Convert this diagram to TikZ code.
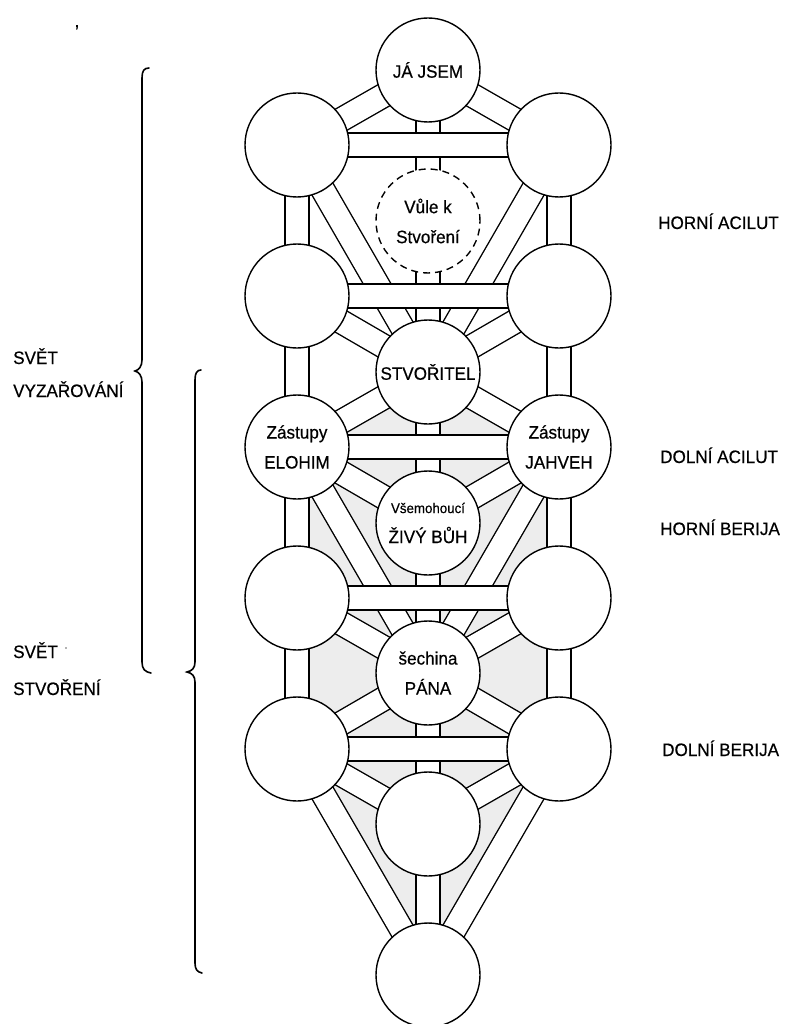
\documentclass[tikz,border=0pt]{standalone}
\usepackage{fontspec}
\setmainfont{Liberation Sans}[FakeStretch=0.95,FakeBold=0.5]
\pgfdeclarelayer{shadelayer}
\pgfdeclarelayer{barAk}
\pgfdeclarelayer{barAw}
\pgfdeclarelayer{barBk}
\pgfdeclarelayer{barBw}
\pgfsetlayers{shadelayer,barAk,barAw,barBk,barBw,main}
\tikzset{
  sef/.style={circle, draw, line width=1.4pt, fill=white, minimum size=104pt, inner sep=0pt, align=center, font=\fontsize{18}{30}\selectfont},
  daat/.style={sef, dash pattern=on 7pt off 5pt},
  barout/.style={line width=25.4pt, draw=black},
  barin/.style={line width=22.6pt, draw=white},
  lbl/.style={inner sep=0pt, anchor=base west, font=\fontsize{18}{22}\selectfont},
  bracestyle/.style={line width=1.6pt, line cap=round},
  shadefill/.style={fill=black!7},
}
\def\lowerbars{M0/L1,M0/R1,M0/M1,M1/M2,L1/L2,R1/R2,L1/M2,R1/M2,L2/M2,R2/M2,L2/L3,R2/R3,M2/L3,M2/R3,M2/M3,L3/M3,R3/M3,L3/M4,R3/M4,M3/M4,L3/L4,R3/R4,L4/M4,R4/M4,L4/L5,R4/R5,M4/L5,M4/R5,M4/M5,L5/M5,R5/M5,L5/M6,R5/M6,M5/M6}
\def\hbars{L1/R1,L2/R2,L3/R3,L4/R4,L5/R5}
\begin{document}
\begin{tikzpicture}[x=1pt,y=-1pt]
\useasboundingbox (0,0) rectangle (785,1024);
% circles (sefirot)
\node[sef] (M0) at (428,70) {JÁ JSEM};
\node[sef] (L1) at (297,145) {};
\node[sef] (R1) at (559,145) {};
\node[daat] (M1) at (428,221) {Vůle k\\Stvoření};
\node[sef] (L2) at (297,296) {};
\node[sef] (R2) at (559,296) {};
\node[sef] (M2) at (428,372) {STVOŘITEL};
\node[sef] (L3) at (297,447) {Zástupy\\ELOHIM};
\node[sef] (R3) at (559,447) {Zástupy\\JAHVEH};
\node[sef] (M3) at (428,523) {{\fontsize{14}{30}\selectfont Všemohoucí}\\ŽIVÝ BŮH};
\node[sef] (L4) at (297,598) {};
\node[sef] (R4) at (559,598) {};
\node[sef] (M4) at (428,673) {šechina\\PÁNA};
\node[sef] (L5) at (297,749) {};
\node[sef] (R5) at (559,749) {};
\node[sef] (M5) at (428,824) {};
\node[sef] (M6) at (428,975) {};
% shading
\begin{pgfonlayer}{shadelayer}
\fill[shadefill] (M2.center) -- (R3.center) -- (R5.center) -- (M6.center) -- (L5.center) -- (L3.center) -- cycle;
\end{pgfonlayer}
% paths: diagonal and vertical
\begin{pgfonlayer}{barAk}
\foreach \a/\b in \lowerbars {\draw[barout] (\a.center) -- (\b.center);}
\end{pgfonlayer}
\begin{pgfonlayer}{barAw}
\foreach \a/\b in \lowerbars {\draw[barin] (\a.center) -- (\b.center);}
\end{pgfonlayer}
% horizontal paths on top
\begin{pgfonlayer}{barBk}
\foreach \a/\b in \hbars {\draw[barout] (\a.center) -- (\b.center);}
\end{pgfonlayer}
\begin{pgfonlayer}{barBw}
\foreach \a/\b in \hbars {\draw[barin] (\a.center) -- (\b.center);}
\end{pgfonlayer}
% right labels
\node[lbl] (hac) at (658,229) {HORNÍ ACILUT};
\node[lbl] (dac) at (660,463) {DOLNÍ ACILUT};
\node[lbl] (hbe) at (660,535) {HORNÍ BERIJA};
\node[lbl] (dbe) at (662,756) {DOLNÍ BERIJA};
% left labels
\node[lbl] (sv1) at (13,364) {SVĚT};
\node[lbl] (vyz) at (13,397) {VYZAŘOVÁNÍ};
\node[lbl] (sv2) at (13,658) {SVĚT};
\node[lbl] (stv) at (13,695) {STVOŘENÍ};
\node[inner sep=0pt, anchor=base, font=\fontsize{18}{18}\selectfont] (mark) at (77,27) {,};
\fill[black!60] (66,648) circle (0.8);
% braces
\draw[bracestyle] (149,68) .. controls (144,68) and (142,71) .. (142,78) -- (142,360) .. controls (142,366) and (139,370) .. (135,371) .. controls (139,372) and (142,376) .. (142,382) -- (142,662) .. controls (142,669) and (145,672) .. (151,673);
\draw[bracestyle] (201,370) .. controls (197,370) and (195,373) .. (195,380) -- (195,662) .. controls (195,668) and (192,671) .. (187,672) .. controls (192,673) and (195,676) .. (195,682) -- (195,963) .. controls (195,969) and (197,972) .. (202,973);
\end{tikzpicture}
\end{document}
